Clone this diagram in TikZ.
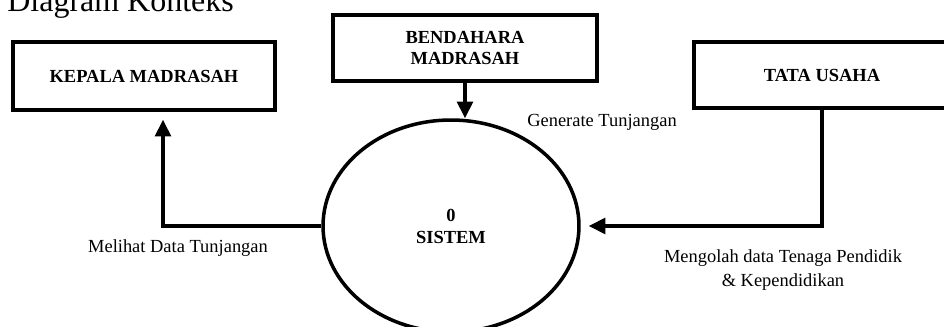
\documentclass[tikz,border=0pt]{standalone}
\usepackage{fontspec}
\setmainfont{Liberation Serif}
\usetikzlibrary{arrows.meta,shapes.geometric}

\begin{document}
\begin{tikzpicture}[x=0.02cm, y=-0.02cm,
    entity/.style={draw, rectangle, line width=2pt, inner sep=0pt, align=center,
        font=\fontsize{10.5}{11.5}\selectfont\bfseries},
    process/.style={draw, ellipse, line width=2pt, inner sep=0pt, align=center,
        minimum width=5.12cm, minimum height=4.24cm,
        font=\fontsize{10.5}{12.5}\selectfont\bfseries},
    flow/.style={line width=2pt, -{Triangle[length=9.5pt, width=9pt]}},
    lbl/.style={inner sep=0pt, align=center, font=\fontsize{10.5}{13.6}\selectfont}]
    \useasboundingbox (0,0) rectangle (944,327);

    \node[anchor=base west, inner sep=0pt, font=\fontsize{18.2}{20}\selectfont] (judul) at (7,12) {Diagram Konteks};

    \node[entity, minimum width=5.24cm, minimum height=1.36cm] (kepala) at (144,76) {KEPALA MADRASAH};
    \node[entity, minimum width=5.28cm, minimum height=1.32cm] (bendahara) at (465,48) {BENDAHARA\\MADRASAH};
    \node[entity, minimum width=5.12cm, minimum height=1.32cm] (tata) at (822,75) {TATA USAHA};
    \node[process] (sistem) at (451,226) {0\\SISTEM};

    \draw[flow] (bendahara.south) -- (bendahara.south |- sistem.north);
    \draw[flow, shorten >=0.16cm] (sistem.west) -| ([xshift=0.38cm]kepala.south);
    \draw[flow, shorten >=0.16cm] (tata.south) |- (sistem.east);

    \node[lbl] (generate) at (602,122) {Generate Tunjangan};
    \node[lbl] (melihat) at (178,248) {Melihat Data Tunjangan};
    \node[lbl] (mengolah) at (783,270) {Mengolah data Tenaga Pendidik\\\& Kependidikan};
\end{tikzpicture}
\end{document}
